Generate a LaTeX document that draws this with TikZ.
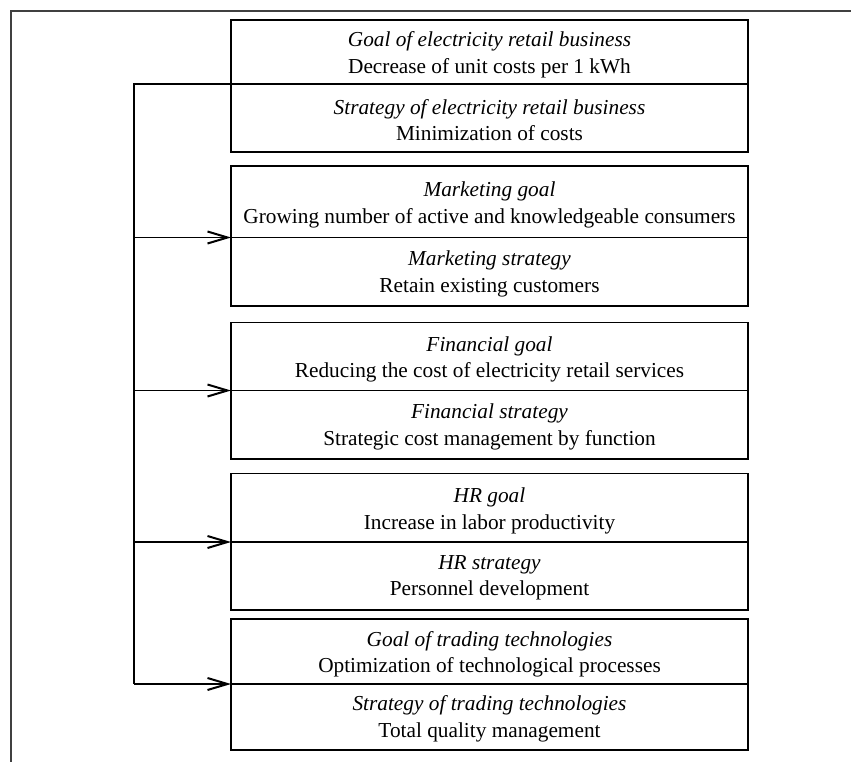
\documentclass[tikz,border=0pt]{standalone}
\usepackage{fontspec}
\setmainfont{Liberation Serif}
\usetikzlibrary{arrows.meta}
\begin{document}
\begin{tikzpicture}[x=1pt,y=-1pt,
  half/.style={draw, line width=1.4pt, minimum width=517pt, inner sep=0pt, outer sep=0pt},
  txt/.style={inner sep=0pt, align=center, font=\fontsize{21.3}{26.5}\selectfont},
  link/.style={line width=1.7pt},
  arr/.style={line width=1.7pt, -{Straight Barb[length=20pt,width=12pt,line width=2pt]}},
  frame/.style={line width=1.8pt, draw=black!75}]
\useasboundingbox (0,0) rectangle (851,762);
\draw[frame] (11,762) -- (11,11) -- (851,11);
% boxes: top, divider, bottom
\foreach \n/\t/\d/\b/\ga/\gb/\sa/\sb in {
  1/20/84/152/{Goal of electricity retail business}/{Decrease of unit costs per 1 kWh}/{Strategy of electricity retail business}/{Minimization of costs},
  2/166/237.5/306/{Marketing goal}/{Growing number of active and knowledgeable consumers}/{Marketing strategy}/{Retain existing customers},
  3/322.5/390.5/459/{Financial goal}/{Reducing the cost of electricity retail services}/{Financial strategy}/{Strategic cost management by function},
  4/473.5/542/610/{HR goal}/{Increase in labor productivity}/{HR strategy}/{Personnel development},
  5/619/684/750/{Goal of trading technologies}/{Optimization of technological processes}/{Strategy of trading technologies}/{Total quality management}}
{
  \pgfmathsetmacro{\hg}{\d-\t}
  \pgfmathsetmacro{\hs}{\b-\d}
  \node[half, minimum height=\hg pt, anchor=south] (g\n) at (489.5,\d) {};
  \node[half, minimum height=\hs pt, anchor=north] (s\n) at (489.5,\d) {};
  \node[txt, yshift=-3pt] (tg\n) at (g\n.center) {\textit{\ga}\\\gb};
  \node[txt, yshift=-2pt] (ts\n) at (s\n.center) {\textit{\sa}\\\sb};
}
\coordinate (top) at (134,84);
\coordinate (bot) at (134,684);
\draw[link] (g1.south west) -- (top) -- (bot);
\foreach \n in {2,3,4,5}{
  \draw[arr] (top |- g\n.south west) -- (g\n.south west);
}
\end{tikzpicture}
\end{document}
